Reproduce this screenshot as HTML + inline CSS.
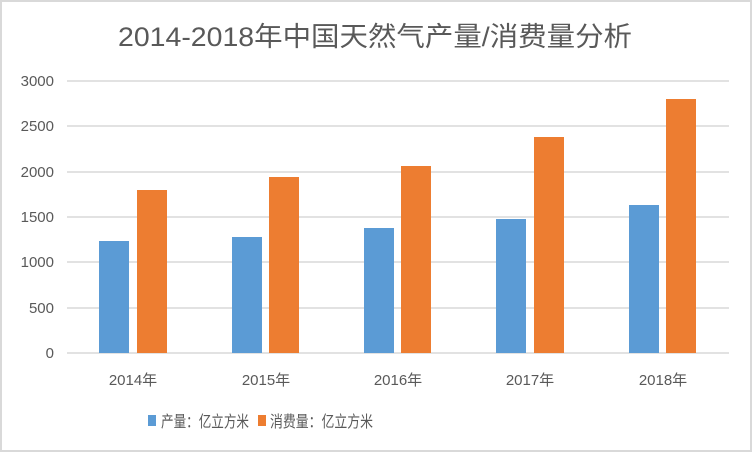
<!DOCTYPE html>
<html><head><meta charset="utf-8"><style>
html,body{margin:0;padding:0;background:#fff}
svg{display:block}
text{font-family:"Liberation Sans","Noto Sans CJK SC",sans-serif;fill:#595959}
</style></head><body>
<svg width="752" height="452" viewBox="0 0 752 452">
<rect x="1" y="1" width="750" height="450" fill="#fff" stroke="#d9d9d9" stroke-width="2"/>
<text x="375" y="46" font-size="27" text-anchor="middle" textLength="514" lengthAdjust="spacingAndGlyphs">2014-2018年中国天然气产量/消费量分析</text>
<g stroke="#d9d9d9" stroke-width="1.5">
<line x1="67" y1="81" x2="729" y2="81"/>
<line x1="67" y1="126" x2="729" y2="126"/>
<line x1="67" y1="172" x2="729" y2="172"/>
<line x1="67" y1="217" x2="729" y2="217"/>
<line x1="67" y1="262" x2="729" y2="262"/>
<line x1="67" y1="308" x2="729" y2="308"/>
<line x1="67" y1="353" x2="729" y2="353"/>
</g>
<g font-size="15" text-anchor="end">
<text x="54" y="86">3000</text>
<text x="54" y="131">2500</text>
<text x="54" y="177">2000</text>
<text x="54" y="222">1500</text>
<text x="54" y="267">1000</text>
<text x="54" y="313">500</text>
<text x="54" y="358">0</text>
</g>
<g fill="#5b9bd5">
<rect x="99" y="241" width="30" height="112"/>
<rect x="232" y="237" width="30" height="116"/>
<rect x="364" y="228" width="30" height="125"/>
<rect x="496" y="219" width="30" height="134"/>
<rect x="629" y="205" width="30" height="148"/>
</g>
<g fill="#ed7d31">
<rect x="137" y="190" width="30" height="163"/>
<rect x="269" y="177" width="30" height="176"/>
<rect x="401" y="166" width="30" height="187"/>
<rect x="534" y="137" width="30" height="216"/>
<rect x="666" y="99" width="30" height="254"/>
</g>
<g font-size="15" text-anchor="middle">
<text x="133" y="385">2014年</text>
<text x="266" y="385">2015年</text>
<text x="398" y="385">2016年</text>
<text x="530" y="385">2017年</text>
<text x="663" y="385">2018年</text>
</g>
<rect x="148" y="415" width="8" height="11" fill="#5b9bd5"/>
<text x="161" y="427" font-size="16" textLength="88" lengthAdjust="spacingAndGlyphs">产量：亿立方米</text>
<rect x="258" y="415" width="8" height="11" fill="#ed7d31"/>
<text x="270" y="427" font-size="16" textLength="103" lengthAdjust="spacingAndGlyphs">消费量：亿立方米</text>
</svg>
</body></html>
